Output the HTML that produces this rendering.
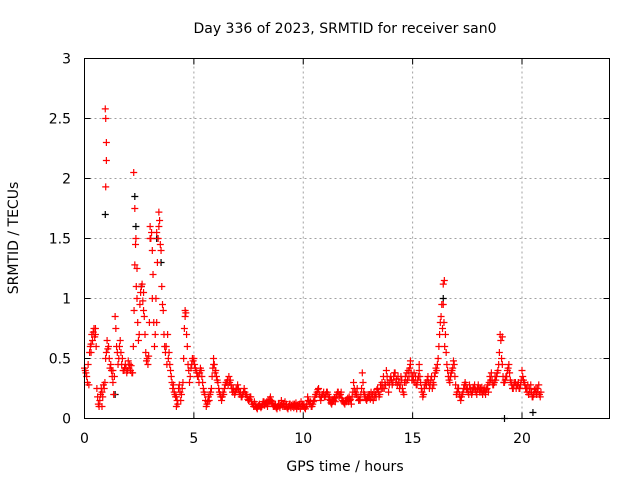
<!DOCTYPE html>
<html><head><meta charset="utf-8"><style>
html,body{margin:0;padding:0;background:#fff;}
svg{display:block;font-family:"DejaVu Sans","Liberation Sans",sans-serif;}
</style></head><body>
<svg id="chart" width="640" height="480" viewBox="0 0 640 480" xmlns="http://www.w3.org/2000/svg">
<rect x="0" y="0" width="640" height="480" fill="#fff"/>
<g id="grid"></g>
<g id="axes"></g>
<g id="pts"></g>
<rect x="84.5" y="58.5" width="525" height="360" fill="none" stroke="#000" stroke-width="1"/>
<text x="345" y="33" font-size="14" text-anchor="middle">Day 336 of 2023, SRMTID for receiver san0</text>
<text x="345" y="471" font-size="14" text-anchor="middle">GPS time / hours</text>
<text x="0" y="0" font-size="14" text-anchor="middle" transform="translate(18,238) rotate(-90)">SRMTID / TECUs</text>
</svg>
<script>
const xTicks = [0,5,10,15,20];
const yTicks = [0,0.5,1,1.5,2,2.5,3];
const yTickLabels = ["0","0.5","1","1.5","2","2.5","3"];
const startTime = 0.0;
const stepTime = 0.1;
const redValuesA = [0.42,0.35,0.28,0.62,0.72,0.70,0.18,0.15,0.22,0.25,0.55,0.60,0.45,0.30,0.85,0.55,0.60,0.45,0.40,0.42,
0.48,0.40,0.38,1.28,1.00,0.70,1.10,1.05,0.55,0.45,1.60,1.40,0.60,0.80,1.72,1.40,0.90,0.55,0.70,0.45,
0.30,0.22,0.18,0.25,0.15,0.30,0.90,0.60,0.30,0.45,0.50,0.40,0.35,0.42,0.30,0.20,0.12,0.15,0.25,0.50,
0.40,0.30,0.20,0.18,0.25,0.30,0.35,0.28,0.25,0.22,0.28,0.20,0.18,0.25,0.20,0.15,0.18,0.12,0.10,0.08,
0.12,0.10,0.14,0.12,0.15,0.18,0.12,0.10,0.08,0.12,0.15,0.12,0.10,0.08,0.12,0.10,0.12,0.08,0.10,0.14,
0.10,0.08,0.18,0.12,0.10,0.15,0.20,0.25,0.15,0.20,0.18,0.22,0.18,0.12,0.15,0.18,0.22,0.20,0.15,0.12,
0.15,0.18,0.12,0.30,0.22,0.18,0.15,0.38,0.20,0.15,0.18,0.22,0.15,0.20,0.25,0.20,0.30,0.25,0.40,0.22,
0.35,0.30,0.38,0.28,0.25,0.32,0.20,0.30,0.40,0.45,0.35,0.30,0.28,0.40,0.25,0.20,0.30,0.35,0.28,0.25,
0.35,0.40,0.60,0.85,1.12,0.70,0.40,0.30,0.40,0.45,0.20,0.25,0.15,0.22,0.30,0.25,0.28,0.20,0.25,0.22,
0.28,0.25,0.20,0.22,0.25,0.30,0.38,0.28,0.32,0.40,0.70,0.45,0.30,0.35,0.45,0.30,0.25,0.30,0.28,0.25,
0.40,0.30,0.25,0.20,0.28,0.18,0.22,0.25,0.20];
const redValuesB = [0.40,0.30,0.55,0.70,0.75,0.60,0.12,0.20,0.18,0.30,0.65,0.50,0.40,0.20,0.75,0.45,0.65,0.50,0.42,0.38,
0.42,0.44,0.60,1.45,0.80,0.95,1.12,0.85,0.48,0.52,1.50,1.20,0.70,1.30,1.65,1.10,0.70,0.60,0.50,0.40,
0.25,0.20,0.15,0.28,0.20,0.50,0.88,0.45,0.35,0.50,0.45,0.38,0.30,0.40,0.25,0.15,0.14,0.20,0.35,0.45,
0.35,0.25,0.18,0.22,0.28,0.32,0.30,0.25,0.22,0.25,0.25,0.22,0.20,0.22,0.18,0.16,0.14,0.10,0.12,0.10,
0.10,0.12,0.11,0.14,0.13,0.15,0.10,0.12,0.10,0.09,0.12,0.10,0.12,0.10,0.09,0.12,0.10,0.11,0.12,0.10,
0.12,0.10,0.15,0.14,0.12,0.18,0.22,0.20,0.18,0.22,0.20,0.20,0.15,0.14,0.17,0.20,0.18,0.22,0.14,0.15,
0.17,0.15,0.18,0.25,0.20,0.15,0.20,0.30,0.18,0.17,0.20,0.18,0.22,0.18,0.22,0.28,0.25,0.30,0.35,0.28,
0.32,0.35,0.30,0.35,0.28,0.25,0.30,0.38,0.35,0.38,0.32,0.35,0.32,0.35,0.22,0.25,0.28,0.30,0.32,0.30,
0.38,0.45,0.70,0.95,0.80,0.55,0.35,0.35,0.42,0.35,0.22,0.20,0.18,0.25,0.28,0.22,0.25,0.22,0.28,0.20,
0.25,0.22,0.23,0.20,0.28,0.35,0.32,0.30,0.35,0.45,0.65,0.35,0.32,0.40,0.38,0.28,0.28,0.25,0.30,0.28,
0.35,0.28,0.22,0.25,0.22,0.20,0.25,0.22,0.18];
const redValuesC = [0.38,0.45,0.60,0.65,0.68,0.25,0.10,0.25,0.28,0.50,0.58,0.42,0.35,0.35,0.60,0.50,0.55,0.40,0.45,0.40,
0.45,0.38,0.90,1.10,0.65,1.05,0.98,0.70,0.50,0.80,1.55,0.80,1.00,1.50,1.45,0.95,0.60,0.45,0.55,0.35,
0.28,0.18,0.12,0.22,0.25,0.75,0.70,0.40,0.42,0.48,0.42,0.35,0.38,0.35,0.22,0.10,0.18,0.22,0.42,0.38,
0.32,0.22,0.15,0.20,0.30,0.28,0.32,0.22,0.20,0.24,0.22,0.18,0.22,0.20,0.16,0.18,0.12,0.14,0.09,0.11,
0.09,0.14,0.13,0.10,0.16,0.14,0.11,0.09,0.12,0.11,0.10,0.14,0.09,0.12,0.11,0.09,0.13,0.10,0.08,0.12,
0.09,0.12,0.14,0.10,0.14,0.20,0.24,0.18,0.20,0.18,0.22,0.16,0.13,0.16,0.14,0.22,0.20,0.17,0.13,0.14,
0.14,0.16,0.22,0.20,0.25,0.16,0.25,0.22,0.16,0.20,0.16,0.20,0.18,0.24,0.18,0.25,0.35,0.28,0.30,0.32,
0.28,0.38,0.33,0.30,0.35,0.22,0.35,0.32,0.42,0.32,0.38,0.28,0.35,0.30,0.18,0.28,0.32,0.25,0.35,0.28,
0.42,0.50,0.80,0.75,0.60,0.45,0.32,0.38,0.48,0.28,0.25,0.18,0.20,0.28,0.24,0.20,0.22,0.26,0.24,0.25,
0.22,0.26,0.25,0.24,0.22,0.32,0.28,0.35,0.38,0.55,0.50,0.30,0.35,0.42,0.32,0.25,0.30,0.28,0.25,0.32,
0.32,0.25,0.28,0.22,0.18,0.24,0.20,0.28,0.22];
const redExtraTimes = [0.95,0.97,1.0,1.0,0.97,0.3,0.5,2.25,2.3,2.35,2.4,3.0,3.3,3.4,3.1,2.7,16.45,16.4,19.1,4.6,5.9,0.8,1.3,4.2,14.9,15.3];
const redExtraValues = [2.58,2.50,2.30,2.15,1.93,0.55,0.75,2.05,1.75,1.50,1.25,1.50,1.55,1.60,1.00,0.90,1.15,0.95,0.68,0.85,0.45,0.10,0.40,0.10,0.48,0.45];
const blackTimes = [0.95,2.3,2.35,3.3,16.4,1.4,19.2,20.5,2.6,3.5];
const blackValues = [1.70,1.85,1.60,1.50,1.00,0.20,0.00,0.05,1.10,1.30];

const X0=84.5, X1=609.5, Y0=418.5, Y1=58.5, XMAX=24, YMAX=3;
function sx(v){return X0+(X1-X0)*v/XMAX;}
function sy(v){return Y0-(Y0-Y1)*v/YMAX;}
const NS="http://www.w3.org/2000/svg";
const grid=document.getElementById('grid'), axes=document.getElementById('axes'), pts=document.getElementById('pts');
function mk(tag,attrs,parent){const e=document.createElementNS(NS,tag);for(const k in attrs)e.setAttribute(k,attrs[k]);parent.appendChild(e);return e;}
xTicks.forEach(function(t){
  const x=sx(t);
  if(t>0){const g=mk('line',{x1:x,x2:x,y1:Y0,y2:Y1,stroke:'#a0a0a0','stroke-dasharray':'2,3'},grid);
  
  }
  const a=mk('line',{x1:x,x2:x,y1:Y0,y2:Y0-6,stroke:'#000'},axes);
  
  
  const b=mk('line',{x1:x,x2:x,y1:Y1,y2:Y1+6,stroke:'#000'},axes);
  
  
  const l=mk('text',{x:x,y:443,'font-size':14,'text-anchor':'middle'},axes);
  l.textContent=String(t);
  
  
});
yTicks.forEach(function(t,i){
  const y=sy(t);
  if(t>0&&t<YMAX){const g=mk('line',{x1:X0,x2:X1,y1:y,y2:y,stroke:'#a0a0a0','stroke-dasharray':'2,3'},grid);
  
  }
  const a=mk('line',{x1:X0,x2:X0+6,y1:y,y2:y,stroke:'#000'},axes);
  
  
  const b=mk('line',{x1:X1,x2:X1-6,y1:y,y2:y,stroke:'#000'},axes);
  
  
  const l=mk('text',{x:71,y:y+5,'font-size':14,'text-anchor':'end'},axes);
  l.textContent=yTickLabels[i];
  
  
});
function plus(t,v,color,name){
  const x=sx(t), y=sy(v);
  const p=mk('path',{d:'M'+(x-3.5)+' '+y+'H'+(x+3.5)+'M'+x+' '+(y-3.5)+'V'+(y+3.5),stroke:color,'stroke-width':1.2,fill:'none'},pts);
  
  
}
blackTimes.forEach(function(t,i){plus(t,blackValues[i],'#000','black-point');});
redValuesA.forEach(function(v,i){plus(startTime+i*stepTime,v,'#ff0000','red-point');});
redValuesB.forEach(function(v,i){plus(startTime+i*stepTime+0.033,v,'#ff0000','red-point');});
redValuesC.forEach(function(v,i){plus(startTime+i*stepTime+0.066,v,'#ff0000','red-point');});
redExtraTimes.forEach(function(t,i){plus(t,redExtraValues[i],'#ff0000','red-point');});
</script>
</body></html>
